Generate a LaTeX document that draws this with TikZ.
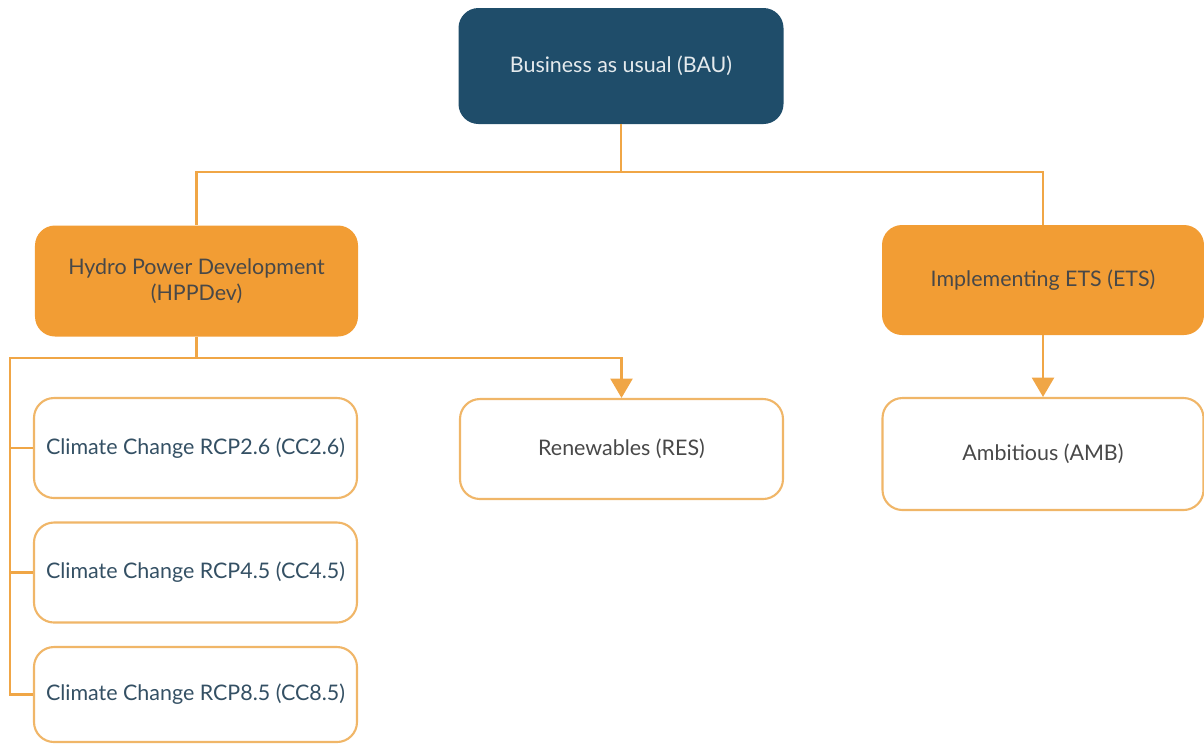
\documentclass[tikz,border=0pt]{standalone}
\usepackage{fontspec}
\setmainfont{Lato}
\usepackage{xcolor}
\usepackage{tikz}
\usetikzlibrary{arrows.meta, positioning, calc}
\definecolor{baublue}{RGB}{31, 77, 106}
\definecolor{scenorange}{RGB}{242, 157, 52}
\definecolor{linkorange}{RGB}{240, 166, 70}
\definecolor{edgeorange}{RGB}{240, 182, 104}
\definecolor{cctext}{RGB}{52, 80, 100}
\definecolor{greytext}{RGB}{72, 72, 72}

\begin{document}
\begin{tikzpicture}[
    box/.style={rounded corners=0.4cm, align=center, inner sep=2pt,
                font=\fontsize{12.2}{15}\selectfont},
    topbox/.style={box, fill=baublue, text=white!88!baublue,
                   minimum width=6.5cm, minimum height=2.32cm},
    mainbox/.style={box, fill=scenorange, text=greytext,
                    minimum width=6.46cm, minimum height=2.22cm},
    subbox/.style={box, draw=edgeorange, line width=1.2pt, fill=white,
                   minimum width=6.46cm, minimum height=2.0cm},
    link/.style={draw=linkorange, line width=1.4pt},
    arrowlink/.style={link, -{Triangle[width=12.5pt,length=11pt]}}
]
\useasboundingbox (0,0) rectangle (24.08,-14.88);

% Top level
\node[topbox] (bau) at (12.42,-1.32) {Business as usual (BAU)};

% Second level
\node[mainbox] (hpp) at (3.93,-5.62) {Hydro Power Development\\(HPPDev)};
\node[mainbox, minimum width=6.44cm, minimum height=2.2cm] (ets) at (20.86,-5.6)
    {Implementing ETS (ETS)};

% Third level
\node[subbox, text=cctext] (cc26) at (3.91,-8.96) {Climate Change RCP2.6 (CC2.6)};
\node[subbox, text=cctext] (cc45) at (3.91,-11.45) {Climate Change RCP4.5 (CC4.5)};
\node[subbox, text=cctext, minimum height=1.9cm] (cc85) at (3.91,-13.89)
    {Climate Change RCP8.5 (CC8.5)};
\node[subbox, text=greytext] (res) at (12.43,-8.98) {Renewables (RES)};
\node[subbox, text=greytext, minimum width=6.42cm, minimum height=2.24cm] (amb)
    at (20.86,-9.08) {Ambitious (AMB)};

% Branch points
\coordinate (bausplit) at (12.42,-3.44);
\coordinate (hppsplit) at (3.93,-7.16);
\coordinate (rail) at (0.2,-7.16);

% Connectors
\draw[link] (bau.south) -- (bausplit);
\draw[link] (bausplit) -| (hpp.north);
\draw[link] (bausplit) -| (ets.north);
\draw[link] (hpp.south) -- (hppsplit);
\draw[arrowlink] (hppsplit) -| (res.north);
\draw[link] (hppsplit) -- (rail) |- (cc85.west);
\draw[link] (rail |- cc26.west) -- (cc26.west);
\draw[link] (rail |- cc45.west) -- (cc45.west);
\draw[arrowlink] (ets.south) -- (amb.north);

\end{tikzpicture}
\end{document}
